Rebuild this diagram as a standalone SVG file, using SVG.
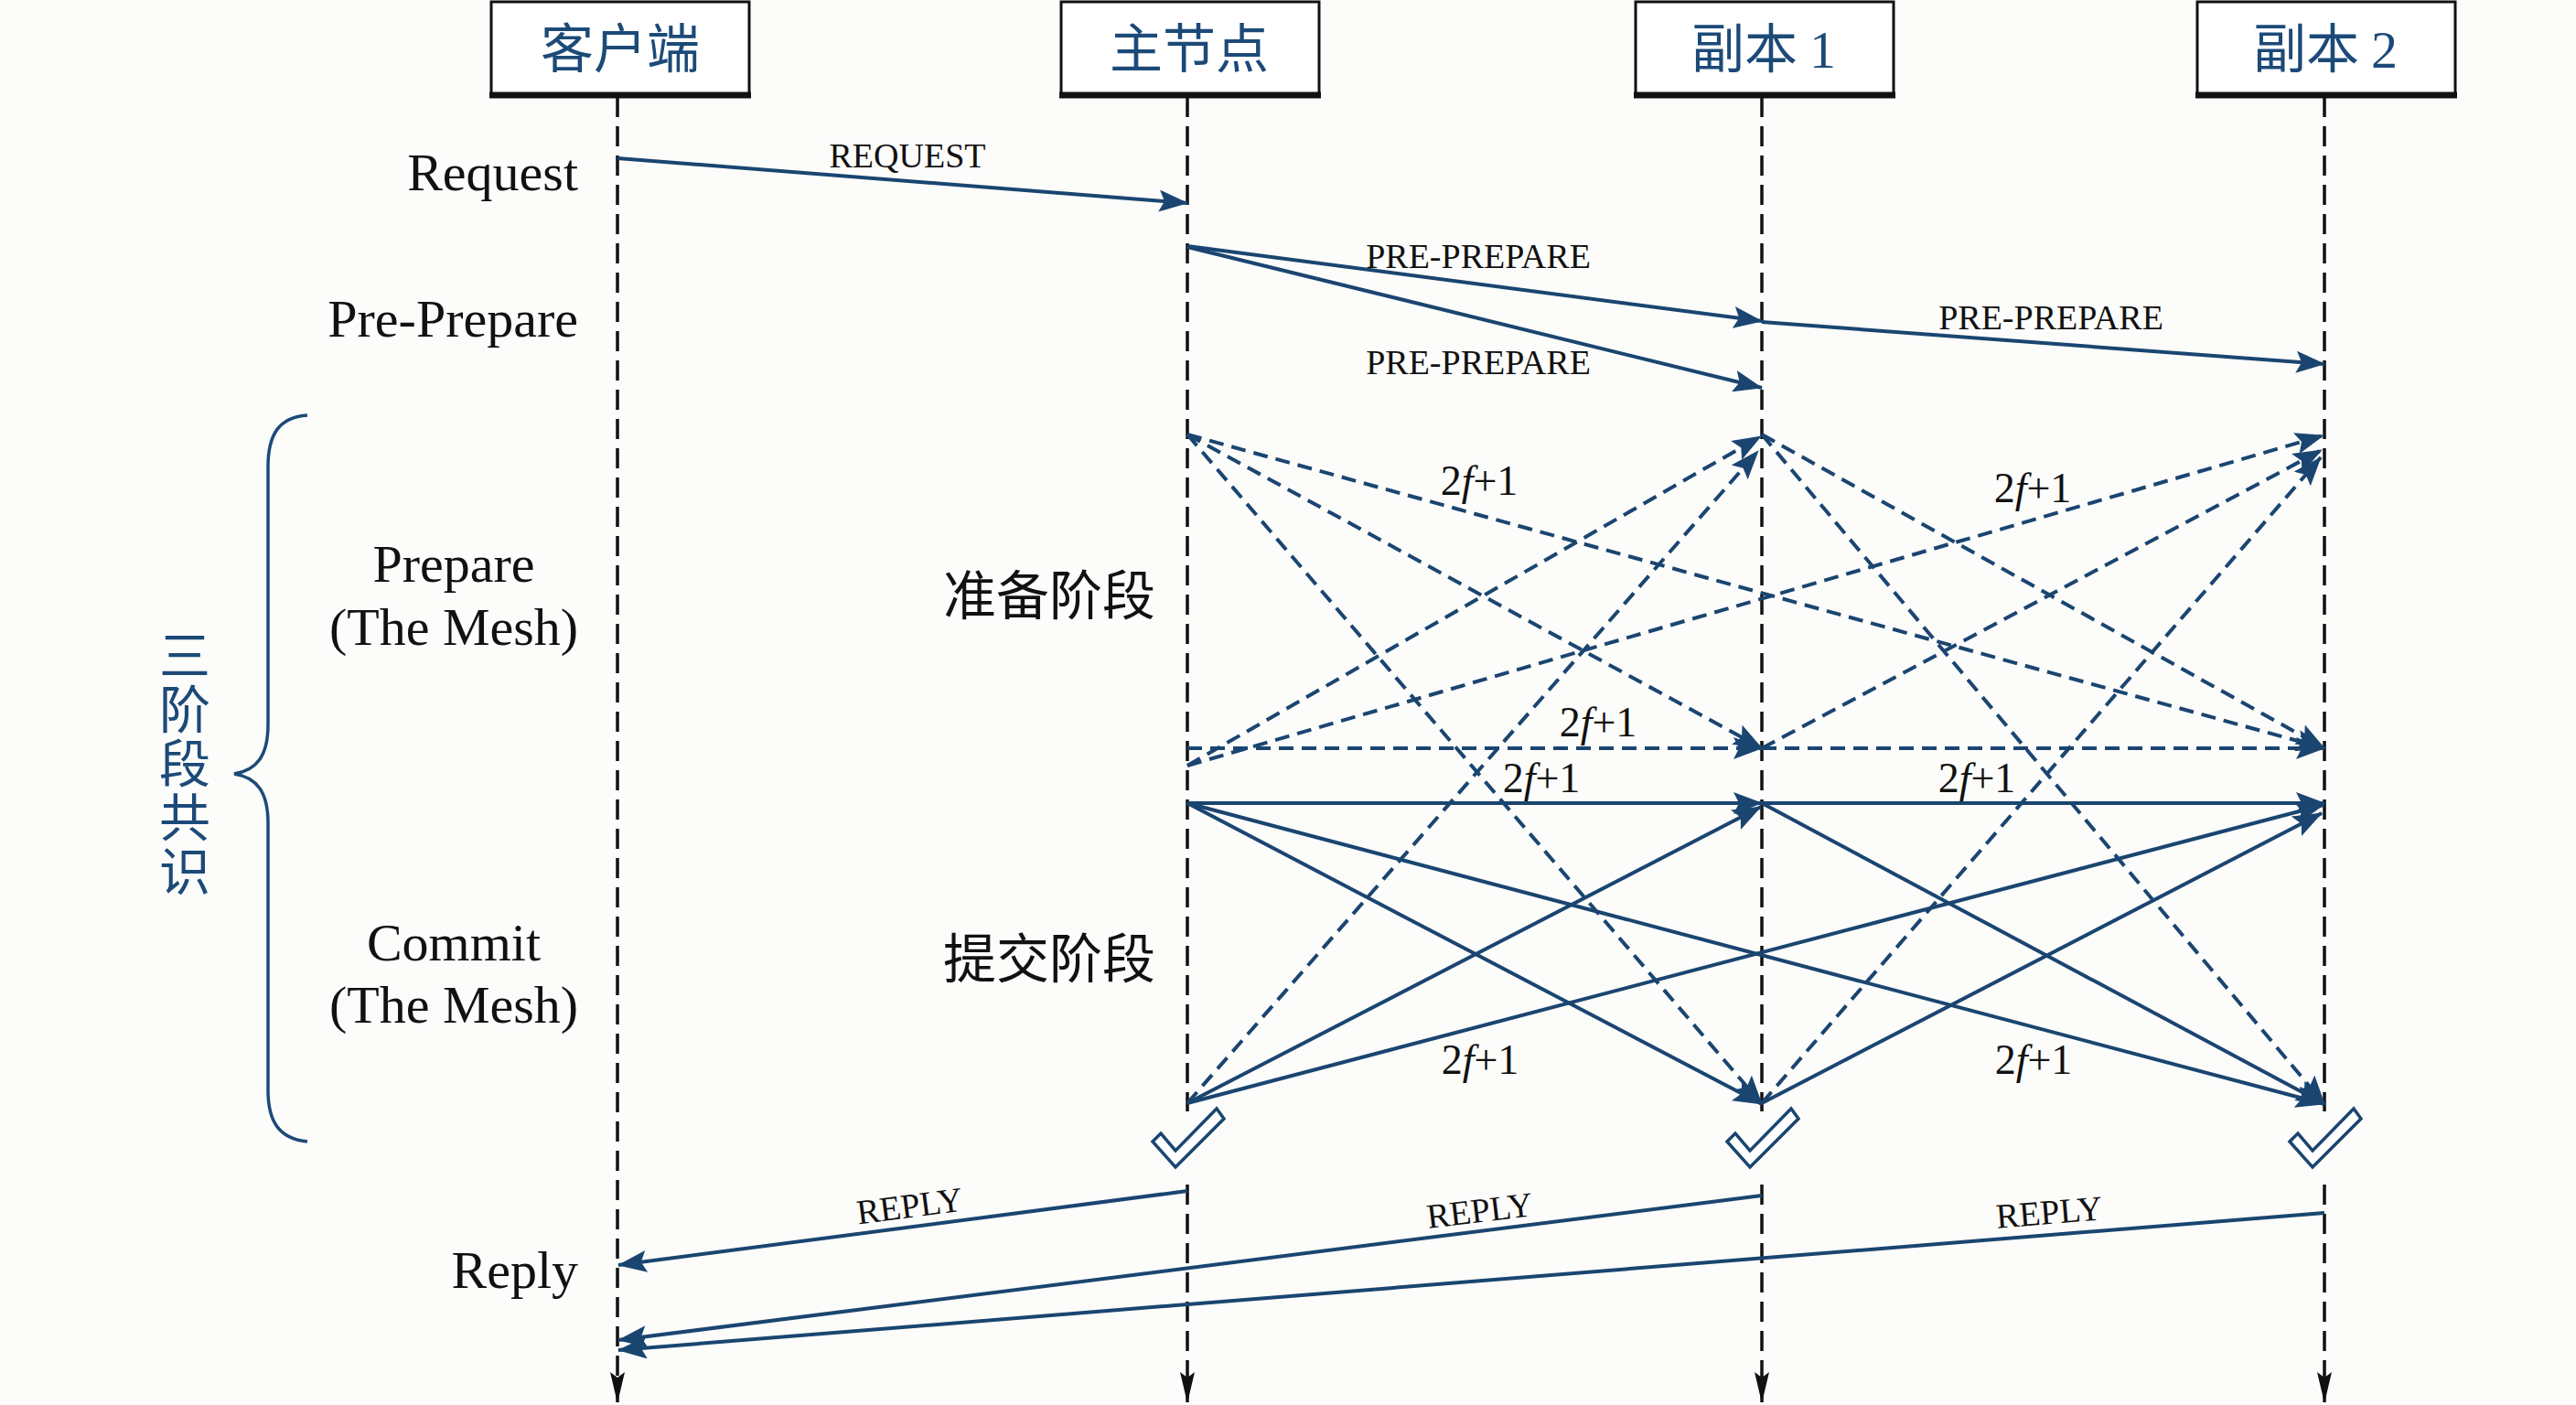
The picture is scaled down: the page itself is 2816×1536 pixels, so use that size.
<svg xmlns="http://www.w3.org/2000/svg" xmlns:xlink="http://www.w3.org/1999/xlink" width="2816" height="1536" viewBox="0 0 2816 1536">
<defs>
<style>
.box{fill:#ffffff;stroke:#111;stroke-width:3}
.boxbase{stroke:#111;stroke-width:7}
.boxtxt{font-family:"Noto Sans CJK SC","Noto Sans",sans-serif;font-size:58px;fill:#1c4a78;text-anchor:middle}
.life{stroke:#111;stroke-width:3.5;stroke-dasharray:22 10;fill:none}
.sol{stroke:#1a4570;stroke-width:4;fill:none}
.dsh{stroke:#1a4570;stroke-width:4;fill:none;stroke-dasharray:16 9}
.lbl{font-family:"Liberation Serif","Times New Roman",serif;font-size:38px;fill:#111;text-anchor:middle}
.big{font-family:"Liberation Serif","Times New Roman",serif;font-size:58px;fill:#111}
.cjk{font-family:"Noto Sans CJK SC","Noto Sans",sans-serif;font-size:58px;fill:#111;text-anchor:middle}
.f21{font-family:"Liberation Serif","Times New Roman",serif;font-size:46px;fill:#111;text-anchor:middle}
.chk{fill:#ffffff;stroke:#1a4570;stroke-width:3.5;stroke-linejoin:miter}
</style>
<marker id="ah" viewBox="0 0 32 24" refX="31" refY="12" markerWidth="32" markerHeight="24" markerUnits="userSpaceOnUse" orient="auto">
<path d="M0,0 L32,12 L0,24 L6,12 z" fill="#1a4570"/>
</marker>
<marker id="lh" viewBox="0 0 34 16" refX="33" refY="8" markerWidth="34" markerHeight="16" markerUnits="userSpaceOnUse" orient="auto">
<path d="M0,0 L34,8 L0,16 L6,8 z" fill="#111"/>
</marker>
<path id="chkshape" d="M-38,-28 L-29,-37 L-13,-18 L32,-64 L40,-53 L-13,0 z"/>
</defs>
<rect x="0" y="0" width="2816" height="1536" fill="#fcfcfa"/>

<g id="lifelines">
<line class="life" x1="675" y1="106" x2="675" y2="1533" marker-end="url(#lh)"/>
<line class="life" x1="1298" y1="106" x2="1298" y2="1215"/>
<line class="life" x1="1298" y1="1295" x2="1298" y2="1533" marker-end="url(#lh)"/>
<line class="life" x1="1926" y1="106" x2="1926" y2="1215"/>
<line class="life" x1="1926" y1="1295" x2="1926" y2="1533" marker-end="url(#lh)"/>
<line class="life" x1="2541" y1="106" x2="2541" y2="1215"/>
<line class="life" x1="2541" y1="1295" x2="2541" y2="1533" marker-end="url(#lh)"/>
</g>

<g id="node-client">
<rect class="box" x="537" y="2" width="282" height="101"/>
<line class="boxbase" x1="535" y1="104" x2="821" y2="104"/>
<text class="boxtxt" x="678" y="74">客户端</text>
</g>
<g id="node-primary">
<rect class="box" x="1160" y="2" width="282" height="101"/>
<line class="boxbase" x1="1158" y1="104" x2="1444" y2="104"/>
<text class="boxtxt" x="1300" y="74">主节点</text>
</g>
<g id="node-replica1">
<rect class="box" x="1788" y="2" width="282" height="101"/>
<line class="boxbase" x1="1786" y1="104" x2="2072" y2="104"/>
<text class="boxtxt" x="1928" y="74">副本 <tspan font-family="Liberation Serif, serif">1</tspan></text>
</g>
<g id="node-replica2">
<rect class="box" x="2402" y="2" width="282" height="101"/>
<line class="boxbase" x1="2400" y1="104" x2="2686" y2="104"/>
<text class="boxtxt" x="2542" y="74">副本 <tspan font-family="Liberation Serif, serif">2</tspan></text>
</g>

<g id="phase-labels">
<text class="big" x="632" y="208" text-anchor="end">Request</text>
<text class="big" x="632" y="368" text-anchor="end">Pre-Prepare</text>
<text class="big" x="496" y="636" text-anchor="middle">Prepare</text>
<text class="big" x="496" y="705" text-anchor="middle">(The Mesh)</text>
<text class="big" x="496" y="1050" text-anchor="middle">Commit</text>
<text class="big" x="496" y="1118" text-anchor="middle">(The Mesh)</text>
<text class="big" x="632" y="1408" text-anchor="end">Reply</text>
<text class="cjk" x="1147" y="672">准备阶段</text>
<text class="cjk" x="1147" y="1069">提交阶段</text>
</g>

<g id="brace">
<path d="M336,454 C305,456 293,475 293,510 L293,792 C293,826 281,842 256,846 C281,850 293,866 293,900 L293,1192 C293,1226 305,1245 336,1248" fill="none" stroke="#1c4a78" stroke-width="3.5"/>
<text x="202" y="688" font-family="Noto Sans CJK SC, Noto Sans, sans-serif" font-size="56" fill="#1c4a78" letter-spacing="3" style="writing-mode:vertical-rl;text-orientation:upright">三阶段共识</text>
</g>

<g id="connectors">
<line class="sol" x1="675" y1="173" x2="1298" y2="222" marker-end="url(#ah)"/>
<line class="sol" x1="1298" y1="269" x2="1926" y2="351" marker-end="url(#ah)"/>
<line class="sol" x1="1298" y1="270" x2="1926" y2="424" marker-end="url(#ah)"/>
<line class="sol" x1="1926" y1="352" x2="2541" y2="398" marker-end="url(#ah)"/>

<line class="dsh" x1="1298" y1="475" x2="2541" y2="818" marker-end="url(#ah)"/>
<line class="dsh" x1="1298" y1="475" x2="1926" y2="818" marker-end="url(#ah)"/>
<line class="dsh" x1="1298" y1="475" x2="1926" y2="1207" marker-end="url(#ah)"/>
<line class="dsh" x1="1298" y1="837" x2="1925" y2="477" marker-end="url(#ah)"/>
<line class="dsh" x1="1298" y1="837" x2="2540" y2="476" marker-end="url(#ah)"/>
<line class="dsh" x1="1298" y1="818" x2="1926" y2="818" marker-end="url(#ah)"/>
<line class="dsh" x1="1926" y1="818" x2="2541" y2="818" marker-end="url(#ah)"/>
<line class="dsh" x1="1298" y1="1206" x2="1922" y2="493" marker-end="url(#ah)"/>
<line class="dsh" x1="1926" y1="475" x2="2541" y2="818" marker-end="url(#ah)"/>
<line class="dsh" x1="1926" y1="475" x2="2541" y2="1207" marker-end="url(#ah)"/>
<line class="dsh" x1="1926" y1="818" x2="2538" y2="492" marker-end="url(#ah)"/>
<line class="dsh" x1="1926" y1="1206" x2="2537" y2="500" marker-end="url(#ah)"/>

<line class="sol" x1="1298" y1="878" x2="1926" y2="878" marker-end="url(#ah)"/>
<line class="sol" x1="1926" y1="878" x2="2541" y2="878" marker-end="url(#ah)"/>
<line class="sol" x1="1298" y1="878" x2="1926" y2="1207" marker-end="url(#ah)"/>
<line class="sol" x1="1298" y1="878" x2="2541" y2="1207" marker-end="url(#ah)"/>
<line class="sol" x1="1298" y1="1206" x2="1925" y2="882" marker-end="url(#ah)"/>
<line class="sol" x1="1298" y1="1206" x2="2540" y2="880" marker-end="url(#ah)"/>
<line class="sol" x1="1926" y1="878" x2="2541" y2="1207" marker-end="url(#ah)"/>
<line class="sol" x1="1926" y1="1206" x2="2538" y2="889" marker-end="url(#ah)"/>

<line class="sol" x1="1298" y1="1302" x2="676" y2="1383" marker-end="url(#ah)"/>
<line class="sol" x1="1926" y1="1307" x2="676" y2="1465" marker-end="url(#ah)"/>
<line class="sol" x1="2541" y1="1326" x2="676" y2="1476" marker-end="url(#ah)"/>
</g>

<g id="connector-labels">
<text class="lbl" x="992" y="183">REQUEST</text>
<text class="lbl" x="1616" y="293">PRE-PREPARE</text>
<text class="lbl" x="1616" y="409">PRE-PREPARE</text>
<text class="lbl" x="2242" y="360">PRE-PREPARE</text>
<text class="f21" x="1617" y="541">2<tspan font-style="italic">f</tspan>+1</text>
<text class="f21" x="2222" y="549">2<tspan font-style="italic">f</tspan>+1</text>
<text class="f21" x="1747" y="805">2<tspan font-style="italic">f</tspan>+1</text>
<text class="f21" x="1685" y="866">2<tspan font-style="italic">f</tspan>+1</text>
<text class="f21" x="2161" y="866">2<tspan font-style="italic">f</tspan>+1</text>
<text class="f21" x="1618" y="1174">2<tspan font-style="italic">f</tspan>+1</text>
<text class="f21" x="2223" y="1174">2<tspan font-style="italic">f</tspan>+1</text>
<text class="lbl" transform="translate(996,1331) rotate(-7.4)">REPLY</text>
<text class="lbl" transform="translate(1619,1336) rotate(-6.8)">REPLY</text>
<text class="lbl" transform="translate(2241,1338) rotate(-4.6)">REPLY</text>
</g>

<g id="checkmarks">
<use xlink:href="#chkshape" class="chk" transform="translate(1298,1276)"/>
<use xlink:href="#chkshape" class="chk" transform="translate(1926,1276)"/>
<use xlink:href="#chkshape" class="chk" transform="translate(2541,1276)"/>
</g>
</svg>
